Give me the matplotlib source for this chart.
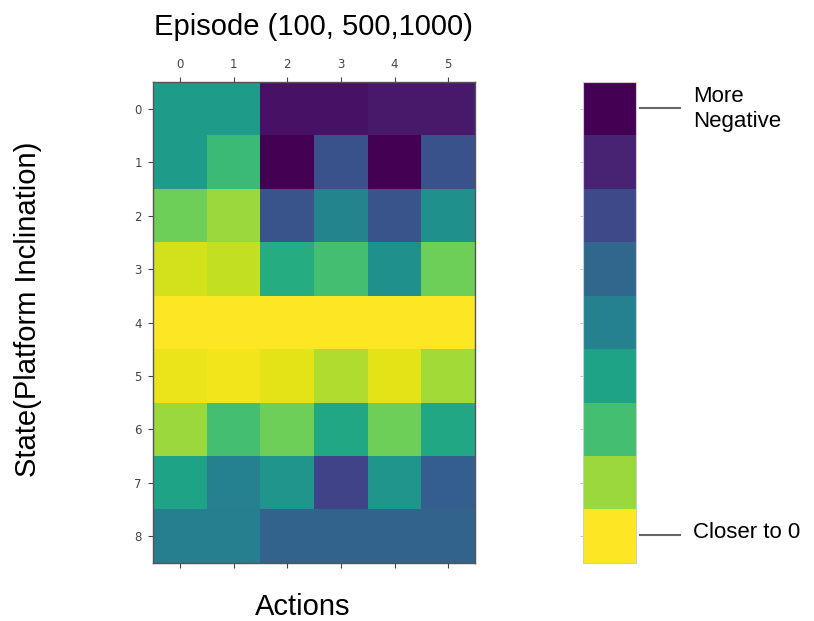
import numpy as np
import matplotlib
matplotlib.use("Agg")
import matplotlib.pyplot as plt

# ---- data (normalized Q-values: 0 = closer to 0, -1 = more negative) ----
actions = [0, 1, 2, 3, 4, 5]
states = [0, 1, 2, 3, 4, 5, 6, 7, 8]
row0 = [-0.45, -0.45, -0.95, -0.95, -0.93, -0.93]
row1 = [-0.45, -0.32, -1.00, -0.75, -1.00, -0.75]
row2 = [-0.22, -0.15, -0.74, -0.55, -0.74, -0.50]
row3 = [-0.07, -0.09, -0.38, -0.30, -0.50, -0.22]
row4 = [0.00, 0.00, 0.00, 0.00, 0.00, 0.00]
row5 = [-0.03, -0.02, -0.04, -0.12, -0.04, -0.14]
row6 = [-0.15, -0.30, -0.22, -0.40, -0.22, -0.40]
row7 = [-0.42, -0.56, -0.48, -0.80, -0.48, -0.70]
row8 = [-0.57, -0.57, -0.68, -0.68, -0.68, -0.68]
q_values = np.array([row0, row1, row2, row3, row4, row5, row6, row7, row8])

cbar_levels = [-1.0, -0.9, -0.78, -0.67, -0.56, -0.42, -0.3, -0.15, 0.0]
label_top = "More\nNegative"
label_bottom = "Closer to 0"

title = "Episode (100, 500,1000)"
xlabel = "Actions"
ylabel = "State(Platform Inclination)"

# ---- figure ----
W, H = 814, 621
fig = plt.figure(figsize=(W / 100, H / 100), dpi=100)
sans = ["Liberation Sans", "DejaVu Sans"]

ax = fig.add_axes([153 / W, 1 - 563 / H, 322 / W, 481 / H])
ax.imshow(q_values, cmap="viridis", vmin=-1, vmax=0, aspect="auto",
          interpolation="nearest")
ax.set_xticks(actions)
ax.set_yticks(states)
ax.tick_params(axis="x", top=True, bottom=True, labeltop=True, labelbottom=False,
               labelsize=8.5, colors="#444444", length=3.5, width=0.8, pad=4.5)
ax.tick_params(axis="y", labelsize=8.5, colors="#444444", length=3.5, width=0.8,
               pad=4.5)
for s in ax.spines.values():
    s.set_color("#555555")
    s.set_linewidth(1.0)

fig.text(313 / W, 1 - 27 / H, title, fontsize=21, family=sans,
         ha="center", va="center")
fig.text(303 / W, 1 - 607 / H, xlabel, fontsize=21, family=sans,
         ha="center", va="center")
fig.text(28 / W, 1 - 309 / H, ylabel, fontsize=21, family=sans,
         ha="center", va="center", rotation=90)

# ---- discrete colour bar ----
cax = fig.add_axes([583 / W, 1 - 563 / H, 53 / W, 481 / H])
cax.imshow(np.array(cbar_levels).reshape(-1, 1), cmap="viridis", vmin=-1, vmax=0,
           aspect="auto", interpolation="nearest")
cax.set_xticks([])
cax.set_yticks(range(len(cbar_levels)))
cax.set_yticklabels([])
cax.tick_params(axis="y", length=2.5, width=0.6, colors="#bbbbbb")
for s in cax.spines.values():
    s.set_color("#cccccc")
    s.set_linewidth(0.8)

# annotation lines and text
fig.lines.append(plt.Line2D([640 / W, 680 / W], [1 - 108 / H, 1 - 108 / H],
                            transform=fig.transFigure, color="#666666", lw=1.5))
fig.lines.append(plt.Line2D([640 / W, 680 / W], [1 - 535 / H, 1 - 535 / H],
                            transform=fig.transFigure, color="#666666", lw=1.5))
fig.text(693 / W, 1 - 109 / H, label_top, fontsize=16, family=sans,
         ha="left", va="center", linespacing=1.3)
fig.text(693 / W, 1 - 532 / H, label_bottom, fontsize=16, family=sans,
         ha="left", va="center")

fig.savefig("out.png", dpi=100)
